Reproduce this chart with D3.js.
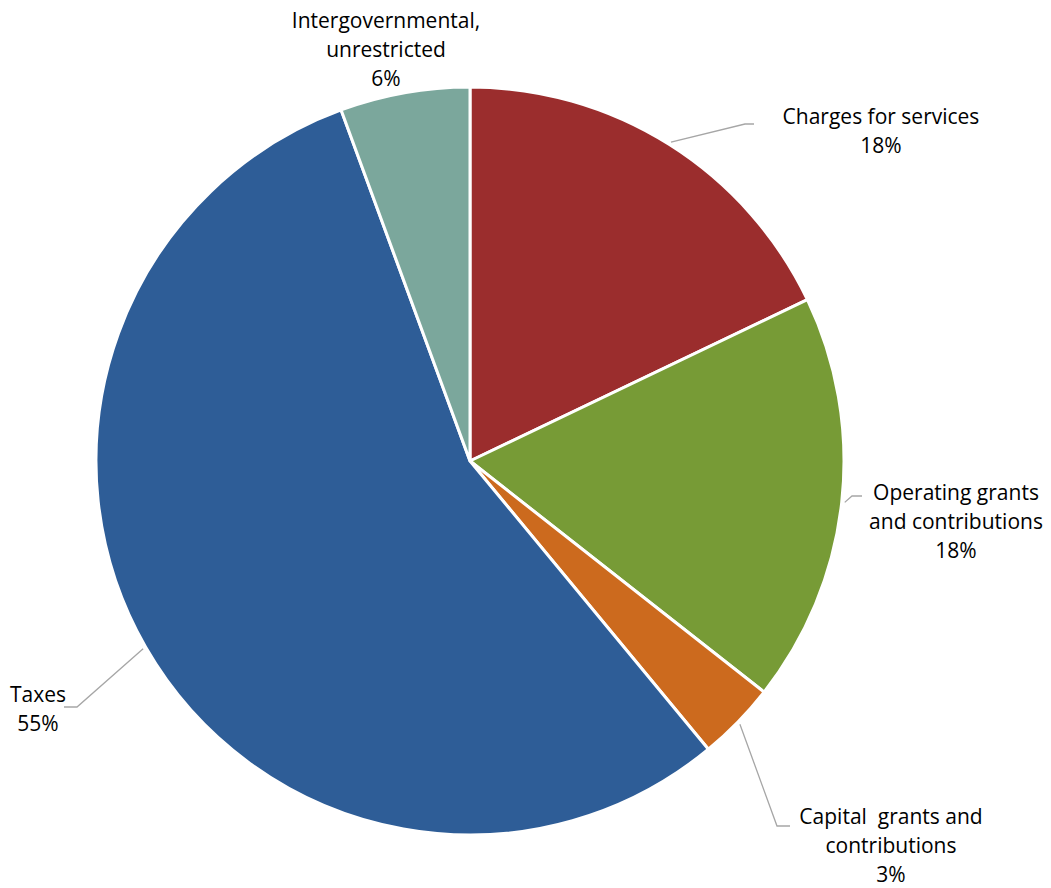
<!DOCTYPE html>
<html>
<head>
<meta charset="utf-8">
<script src="https://cdn.jsdelivr.net/npm/d3@7"></script>
<style>
  html, body { margin: 0; padding: 0; background: #fff; }
  svg { display: block; }
  text { font-family: "Open Sans", Lato, sans-serif; fill: #000; }
</style>
</head>
<body>
<svg id="chart" width="1051" height="888"></svg>
<script>
// Revenue sources (share of total, percent)
const categories = [
  "Charges for services",
  "Operating grants and contributions",
  "Capital grants and contributions",
  "Taxes",
  "Intergovernmental, unrestricted"
];
const values = [17.9, 17.7, 3.4, 55.4, 5.6];

// Label text split into lines
const labelLines = [
  ["Charges for services"],
  ["Operating grants", "and contributions"],
  ["Capital  grants and", "contributions"],
  ["Taxes"],
  ["Intergovernmental,", "unrestricted"]
];

const colors = ["#9b2d2d", "#779b36", "#cc6a1e", "#2e5d97", "#7ba79c"];

// Label placement: text centre x, first baseline y, leader elbow and end
const labelLayout = [
  { x: 881, y: 124, elbow: [745, 124], end: [754, 124] },
  { x: 956, y: 500, elbow: [852, 496], end: [862, 496] },
  { x: 891, y: 824, elbow: [777, 826], end: [790, 826] },
  { x: 38,  y: 702, elbow: [77, 707],  end: [64, 707] },
  { x: 386, y: 28,  elbow: null, end: null }
];

const cx = 470, cy = 461, radius = 374;
const lineH = 29;

const svg = d3.select("#chart");
const g = svg.append("g").attr("transform", `translate(${cx},${cy})`);

const pie = d3.pie().sort(null).value(d => d).startAngle(0).endAngle(2 * Math.PI);
const arcs = pie(values);
const arc = d3.arc().innerRadius(0).outerRadius(radius);

g.selectAll("path.slice")
  .data(arcs)
  .join("path")
  .attr("class", "slice")
  .attr("d", arc)
  .attr("fill", (d, i) => colors[i])
  .attr("stroke", "#fff")
  .attr("stroke-width", 3)
  .attr("stroke-linejoin", "round");

const total = d3.sum(values);

// Leader lines from the slice edge to the label
arcs.forEach((d, i) => {
  const L = labelLayout[i];
  if (!L.elbow) return;
  const mid = (d.startAngle + d.endAngle) / 2;
  const r0 = radius + 3;
  const sx = cx + r0 * Math.sin(mid);
  const sy = cy - r0 * Math.cos(mid);
  svg.append("polyline")
    .attr("points", [[sx, sy], L.elbow, L.end].map(p => p.join(",")).join(" "))
    .attr("fill", "none")
    .attr("stroke", "#a6a6a6")
    .attr("stroke-width", 1.3);
});

// Labels: category name lines followed by the rounded percentage
arcs.forEach((d, i) => {
  const L = labelLayout[i];
  const lines = labelLines[i].concat([Math.round(values[i] / total * 100) + "%"]);
  const t = svg.append("text")
    .attr("text-anchor", "middle")
    .attr("font-size", 21)
    .attr("y", L.y);
  lines.forEach((s, k) => {
    t.append("tspan")
      .attr("x", L.x)
      .attr("dy", k === 0 ? 0 : lineH)
      .style("white-space", "pre")
      .text(s);
  });
});
</script>
</body>
</html>
